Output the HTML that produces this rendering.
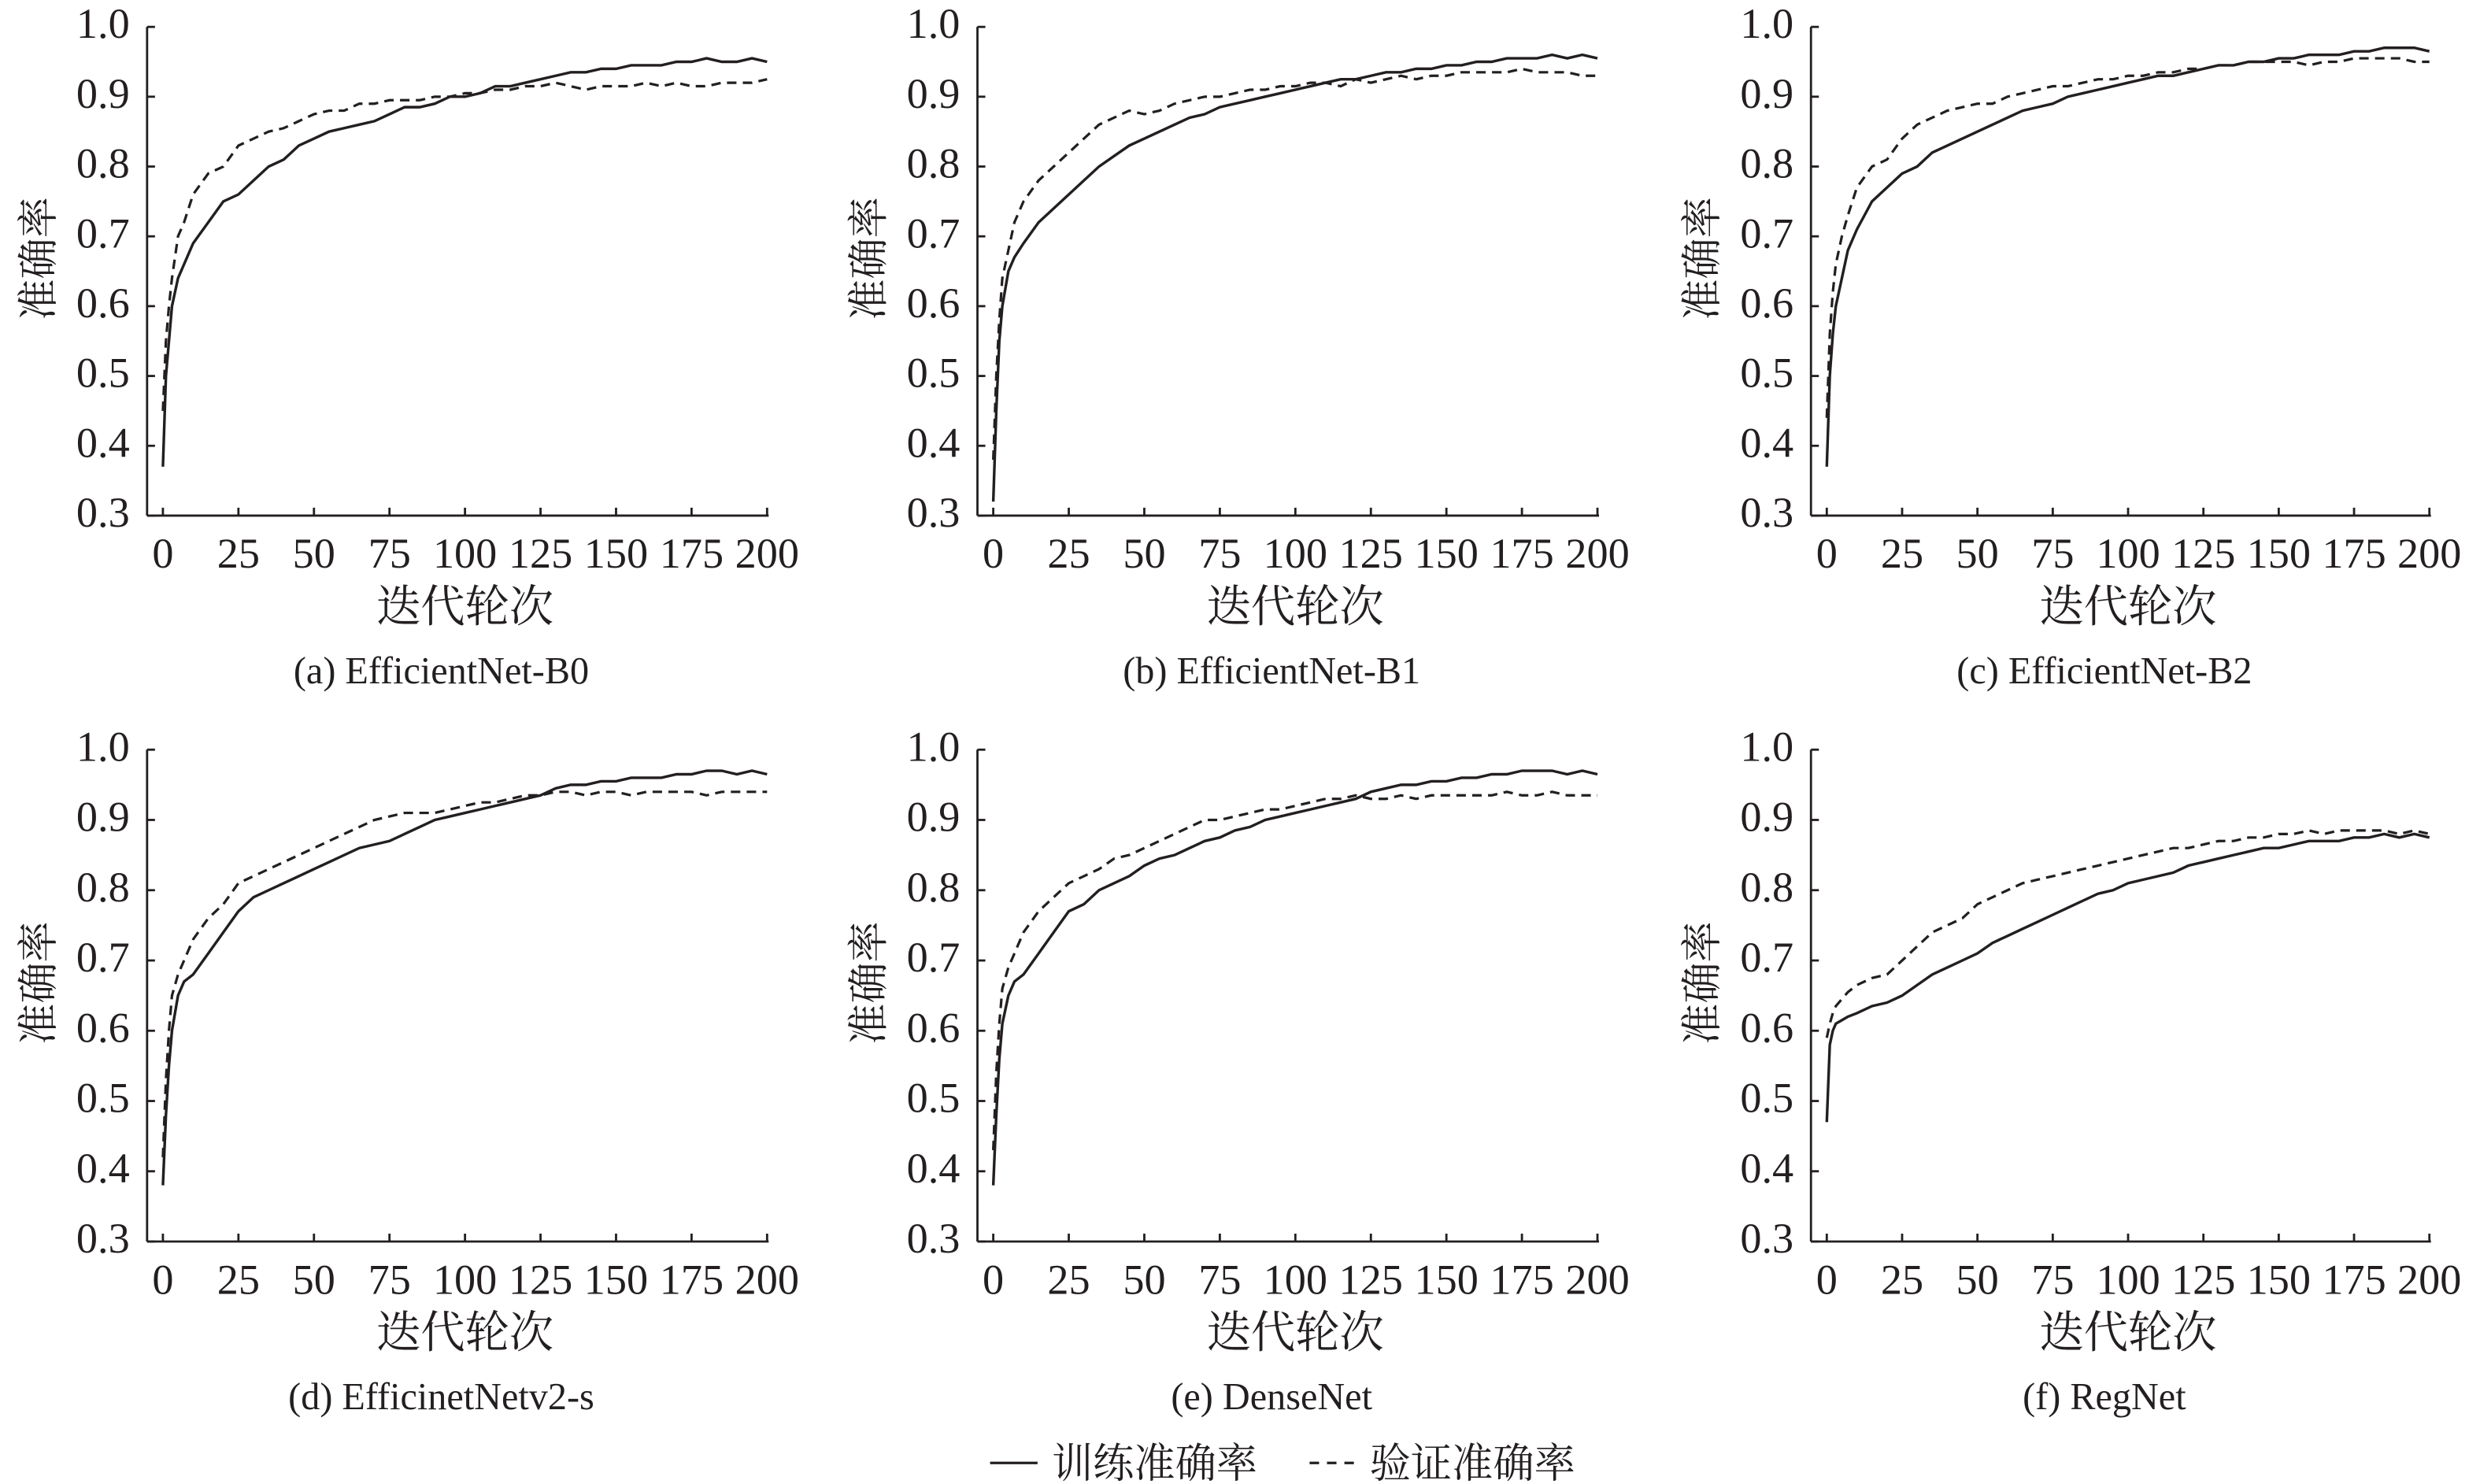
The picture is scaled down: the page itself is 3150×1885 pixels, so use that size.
<!DOCTYPE html>
<html><head><meta charset="utf-8"><style>
html,body{margin:0;padding:0;background:#fff;}
svg{display:block;}
text{fill:#231f20;}
.tk{font-family:"Liberation Serif","Noto Serif CJK SC",serif;font-size:27px;}
.cap{font-family:"Liberation Serif","Noto Serif CJK SC",serif;font-size:24px;}
.cn{font-family:"Liberation Serif","Noto Serif CJK SC","Noto Sans CJK SC",serif;font-size:26px;}
.xt{font-family:"Liberation Serif","Noto Serif CJK SC","Noto Sans CJK SC",serif;font-size:28px;}
</style></head><body>
<svg id="fig" width="3150" height="1885" viewBox="0 0 1568 938.3" xmlns="http://www.w3.org/2000/svg">
<g id="root"></g>
<g>
<line x1="626" y1="925" x2="656" y2="925" stroke="#231f20" stroke-width="1.6"/>
<text class="cn" x="665" y="934">训练准确率</text>
<line x1="828" y1="925" x2="858" y2="925" stroke="#231f20" stroke-width="1.6" stroke-dasharray="6,5"/>
<text class="cn" x="866" y="934">验证准确率</text>
</g>
</svg>
<script>
const epochs=[0,1,2,3,5,7,10,15,20,25,30,35,40,45,50,55,60,65,70,75,80,85,90,95,100,105,110,115,120,125,130,135,140,145,150,155,160,165,170,175,180,185,190,195,200];
const yTicks=["0.3","0.4","0.5","0.6","0.7","0.8","0.9","1.0"];
const xTicks=[0,25,50,75,100,125,150,175,200];
const captions=["(a) EfficientNet-B0","(b) EfficientNet-B1","(c) EfficientNet-B2","(d) EfficinetNetv2-s","(e) DenseNet","(f) RegNet"];
const trainA=[0.37,0.50,0.55,0.60,0.64,0.66,0.69,0.72,0.75,0.76,0.78,0.80,0.81,0.83,0.84,0.85,0.855,0.86,0.865,0.875,0.885,0.885,0.89,0.90,0.90,0.905,0.915,0.915,0.92,0.925,0.93,0.935,0.935,0.94,0.94,0.945,0.945,0.945,0.95,0.95,0.955,0.95,0.95,0.955,0.95];
const valA=[0.45,0.55,0.60,0.64,0.70,0.72,0.76,0.79,0.80,0.83,0.84,0.85,0.855,0.865,0.875,0.88,0.88,0.89,0.89,0.895,0.895,0.895,0.90,0.90,0.905,0.905,0.91,0.91,0.915,0.915,0.92,0.915,0.91,0.915,0.915,0.915,0.92,0.915,0.92,0.915,0.915,0.92,0.92,0.92,0.925];
const trainB=[0.32,0.45,0.55,0.60,0.65,0.67,0.69,0.72,0.74,0.76,0.78,0.80,0.815,0.83,0.84,0.85,0.86,0.87,0.875,0.885,0.89,0.895,0.90,0.905,0.91,0.915,0.92,0.925,0.925,0.93,0.935,0.935,0.94,0.94,0.945,0.945,0.95,0.95,0.955,0.955,0.955,0.96,0.955,0.96,0.955];
const valB=[0.38,0.50,0.58,0.64,0.68,0.72,0.75,0.78,0.80,0.82,0.84,0.86,0.87,0.88,0.875,0.88,0.89,0.895,0.90,0.90,0.905,0.91,0.91,0.915,0.915,0.92,0.92,0.915,0.925,0.92,0.925,0.93,0.925,0.93,0.93,0.935,0.935,0.935,0.935,0.94,0.935,0.935,0.935,0.93,0.93];
const trainC=[0.37,0.50,0.56,0.60,0.64,0.68,0.71,0.75,0.77,0.79,0.80,0.82,0.83,0.84,0.85,0.86,0.87,0.88,0.885,0.89,0.90,0.905,0.91,0.915,0.92,0.925,0.93,0.93,0.935,0.94,0.945,0.945,0.95,0.95,0.955,0.955,0.96,0.96,0.96,0.965,0.965,0.97,0.97,0.97,0.965];
const valC=[0.44,0.56,0.62,0.66,0.70,0.73,0.77,0.80,0.81,0.84,0.86,0.87,0.88,0.885,0.89,0.89,0.90,0.905,0.91,0.915,0.915,0.92,0.925,0.925,0.93,0.93,0.935,0.935,0.94,0.94,0.945,0.945,0.95,0.95,0.95,0.95,0.945,0.95,0.95,0.955,0.955,0.955,0.955,0.95,0.95];
const trainD=[0.38,0.48,0.55,0.60,0.65,0.67,0.68,0.71,0.74,0.77,0.79,0.80,0.81,0.82,0.83,0.84,0.85,0.86,0.865,0.87,0.88,0.89,0.90,0.905,0.91,0.915,0.92,0.925,0.93,0.935,0.945,0.95,0.95,0.955,0.955,0.96,0.96,0.96,0.965,0.965,0.97,0.97,0.965,0.97,0.965];
const valD=[0.42,0.53,0.60,0.65,0.68,0.70,0.73,0.76,0.78,0.81,0.82,0.83,0.84,0.85,0.86,0.87,0.88,0.89,0.90,0.905,0.91,0.91,0.91,0.915,0.92,0.925,0.925,0.93,0.935,0.935,0.94,0.94,0.935,0.94,0.94,0.935,0.94,0.94,0.94,0.94,0.935,0.94,0.94,0.94,0.94];
const trainE=[0.38,0.48,0.56,0.61,0.65,0.67,0.68,0.71,0.74,0.77,0.78,0.80,0.81,0.82,0.835,0.845,0.85,0.86,0.87,0.875,0.885,0.89,0.90,0.905,0.91,0.915,0.92,0.925,0.93,0.94,0.945,0.95,0.95,0.955,0.955,0.96,0.96,0.965,0.965,0.97,0.97,0.97,0.965,0.97,0.965];
const valE=[0.43,0.54,0.61,0.66,0.69,0.71,0.74,0.77,0.79,0.81,0.82,0.83,0.845,0.85,0.86,0.87,0.88,0.89,0.90,0.90,0.905,0.91,0.915,0.915,0.92,0.925,0.93,0.93,0.935,0.93,0.93,0.935,0.93,0.935,0.935,0.935,0.935,0.935,0.94,0.935,0.935,0.94,0.935,0.935,0.935];
const trainF=[0.47,0.58,0.60,0.61,0.615,0.62,0.625,0.635,0.64,0.65,0.665,0.68,0.69,0.70,0.71,0.725,0.735,0.745,0.755,0.765,0.775,0.785,0.795,0.80,0.81,0.815,0.82,0.825,0.835,0.84,0.845,0.85,0.855,0.86,0.86,0.865,0.87,0.87,0.87,0.875,0.875,0.88,0.875,0.88,0.875];
const valF=[0.59,0.61,0.625,0.635,0.645,0.655,0.665,0.675,0.68,0.70,0.72,0.74,0.75,0.76,0.78,0.79,0.80,0.81,0.815,0.82,0.825,0.83,0.835,0.84,0.845,0.85,0.855,0.86,0.86,0.865,0.87,0.87,0.875,0.875,0.88,0.88,0.885,0.88,0.885,0.885,0.885,0.885,0.88,0.885,0.88];
const trains=[trainA,trainB,trainC,trainD,trainE,trainF];
const vals=[valA,valB,valC,valD,valE,valF];

const NS="http://www.w3.org/2000/svg";
const root=document.getElementById('root');
function mk(tag,attrs,parent){const e=document.createElementNS(NS,tag);for(const k in attrs)e.setAttribute(k,attrs[k]);parent.appendChild(e);return e;}
const colX=[[93,103,485],[618,628,1010],[1145,1155,1536]];
const rowY=[[17,326],[474,785]];
for(let p=0;p<6;p++){
  const c=p%3,r=Math.floor(p/3);
  const [ax,x0,x1]=colX[c];const [yTop,yBot]=rowY[r];
  const sx=v=>x0+(v-0)/200*(x1-x0);
  const sy=v=>yBot-(v-0.3)/0.7*(yBot-yTop);
  const g=mk('g',{},root);
  
  
  const yl=mk('line',{x1:ax,y1:yTop,x2:ax,y2:yBot,stroke:'#231f20','stroke-width':1.4},g);
  
  
  const xl=mk('line',{x1:ax,y1:yBot,x2:x1+1,y2:yBot,stroke:'#231f20','stroke-width':1.4},g);
  
  
  yTicks.forEach(t=>{const y=sy(parseFloat(t));
    mk('line',{x1:ax,y1:y,x2:ax+5,y2:y,stroke:'#231f20','stroke-width':1.4},g);
    const tx=mk('text',{x:ax-11,y:y+7,'text-anchor':'end',class:'tk'},g);tx.textContent=t;
    
    });
  xTicks.forEach(t=>{const x=sx(t);
    mk('line',{x1:x,y1:yBot,x2:x,y2:yBot-5,stroke:'#231f20','stroke-width':1.4},g);
    const tx=mk('text',{x:x,y:yBot+33,'text-anchor':'middle',class:'tk'},g);tx.textContent=t;
    
    });
  const xt=mk('text',{x:(x0+x1)/2,y:yBot+67,'text-anchor':'middle',class:'xt'},g);xt.textContent='迭代轮次';
  
  
  const yt=mk('text',{x:0,y:0,'text-anchor':'middle',class:'cn',transform:`translate(${ax-60},${(yTop+yBot)/2-8}) rotate(-90)`},g);yt.textContent='准确率';
  
  
  const cp=mk('text',{x:(x0+x1)/2-15,y:yBot+106,'text-anchor':'middle',class:'cap'},g);cp.textContent=captions[p];
  
  
  const mkPath=(arr)=>{const n=Math.min(arr.length,epochs.length);let d='';for(let i=0;i<n;i++)d+=(i?'L':'M')+sx(epochs[i]).toFixed(2)+','+sy(arr[i]).toFixed(2);return d;};
  const pv=mk('path',{d:mkPath(vals[p]),fill:'none',stroke:'#231f20','stroke-width':1.6,'stroke-dasharray':'6,4'},g);
  
  
  const pt=mk('path',{d:mkPath(trains[p]),fill:'none',stroke:'#231f20','stroke-width':1.7},g);
  
  
}
</script>
</body></html>
